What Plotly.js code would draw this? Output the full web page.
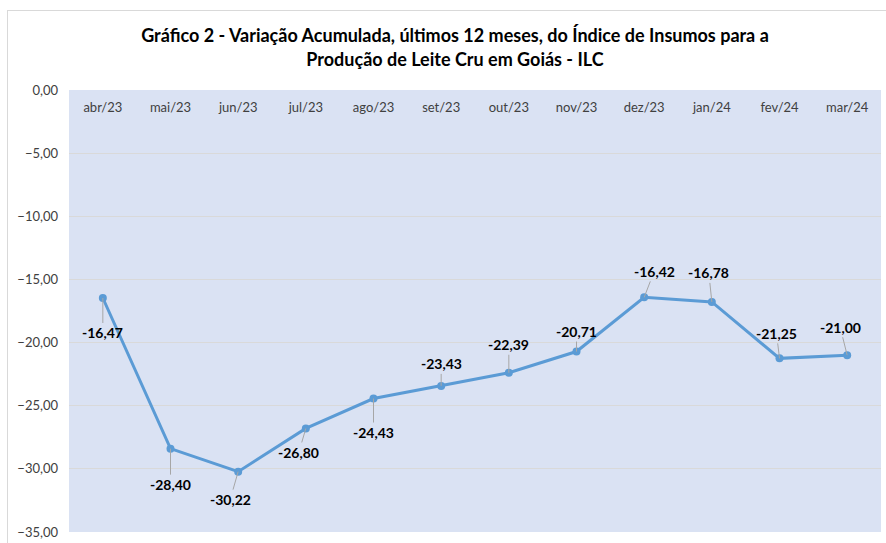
<!DOCTYPE html>
<html><head><meta charset="utf-8">
<script src="https://cdn.plot.ly/plotly-3.0.1.min.js"></script>
<style>
html,body{margin:0;padding:0;background:#fff;overflow:hidden}
#frame{position:absolute;left:7px;top:10px;width:900px;height:560px;border:1px solid #D9D9D9;}
#chart{position:absolute;left:0;top:0;width:886px;height:543px}
</style></head>
<body><div id="frame"></div><div id="chart"></div>
<script>
const months = ['abr/23','mai/23','jun/23','jul/23','ago/23','set/23','out/23','nov/23','dez/23','jan/24','fev/24','mar/24'];
const values = [-16.47,-28.40,-30.22,-26.80,-24.43,-23.43,-22.39,-20.71,-16.42,-16.78,-21.25,-21.00];
const yTicks = [0,-5,-10,-15,-20,-25,-30,-35];

// label placement (pixel offsets from point)
const labelDx = [0,0,-8,-7,0,0,0,0,10,-3,-3,-7];
const labelDy = [35,36,28,24,34,-22,-28,-20,-26,-29,-25,-28];

const FONT = 'Lato, "Liberation Sans", sans-serif';
const fmt = v => v.toFixed(2).replace('.', ',');

const trace = {
  x: months, y: values, type: 'scatter', mode: 'lines+markers',
  line: {color: '#5B9BD5', width: 3},
  marker: {color: '#5B9BD5', size: 8},
  hoverinfo: 'skip', showlegend: false
};

const annotations = months.map((m, i) => ({
  x: m, y: values[i], xref: 'x', yref: 'y',
  text: '<b>' + fmt(values[i]) + '</b>',
  showarrow: true, arrowhead: 0, arrowwidth: 1, arrowcolor: '#A6A6A6',
  ax: labelDx[i], ay: labelDy[i], standoff: 0, startstandoff: 0,
  font: {family: FONT, size: 14, color: '#000'}
}));

const layout = {
  width: 886, height: 543,
  margin: {l: 69, r: 5, t: 90, b: 11},
  paper_bgcolor: 'rgba(0,0,0,0)',
  plot_bgcolor: '#DAE2F3',
  separators: ',.',
  font: {family: FONT, color: '#404040'},
  title: {
    text: '<b>Gráfico 2 - Variação Acumulada, últimos 12 meses, do Índice de Insumos para a<br>Produção de Leite Cru em Goiás - ILC</b>',
    font: {family: FONT, size: 18, color: '#000'},
    x: 0.5135, xref: 'container', xanchor: 'center',
    y: 0.922, yref: 'container', yanchor: 'top'
  },
  xaxis: {
    type: 'category', range: [-0.5, 11.5], side: 'bottom',
    anchor: 'free', position: 0.982,
    ticks: '', showline: false, showgrid: false, zeroline: false,
    tickfont: {family: FONT, size: 13, color: '#404040'}, fixedrange: true
  },
  xaxis2: {
    overlaying: 'x', anchor: 'y', side: 'top', type: 'linear',
    range: [-0.5, 11.5], tick0: -0.5, dtick: 1,
    ticks: 'outside', ticklen: 4, tickcolor: '#D9D9D9',
    showticklabels: false, showgrid: false, zeroline: false,
    showline: true, linecolor: '#D9D9D9'
  },
  yaxis: {
    range: [-35, 0], tickvals: yTicks, tickformat: '.2f',
    gridcolor: '#D9D9D9', zeroline: false, showline: false, ticks: '',
    ticklabelstandoff: 10,
    tickfont: {family: FONT, size: 13, color: '#404040'}, fixedrange: true
  },
  annotations: annotations
};

Plotly.newPlot('chart', [trace], layout, {staticPlot: true, displayModeBar: false});
</script>
</body></html>
